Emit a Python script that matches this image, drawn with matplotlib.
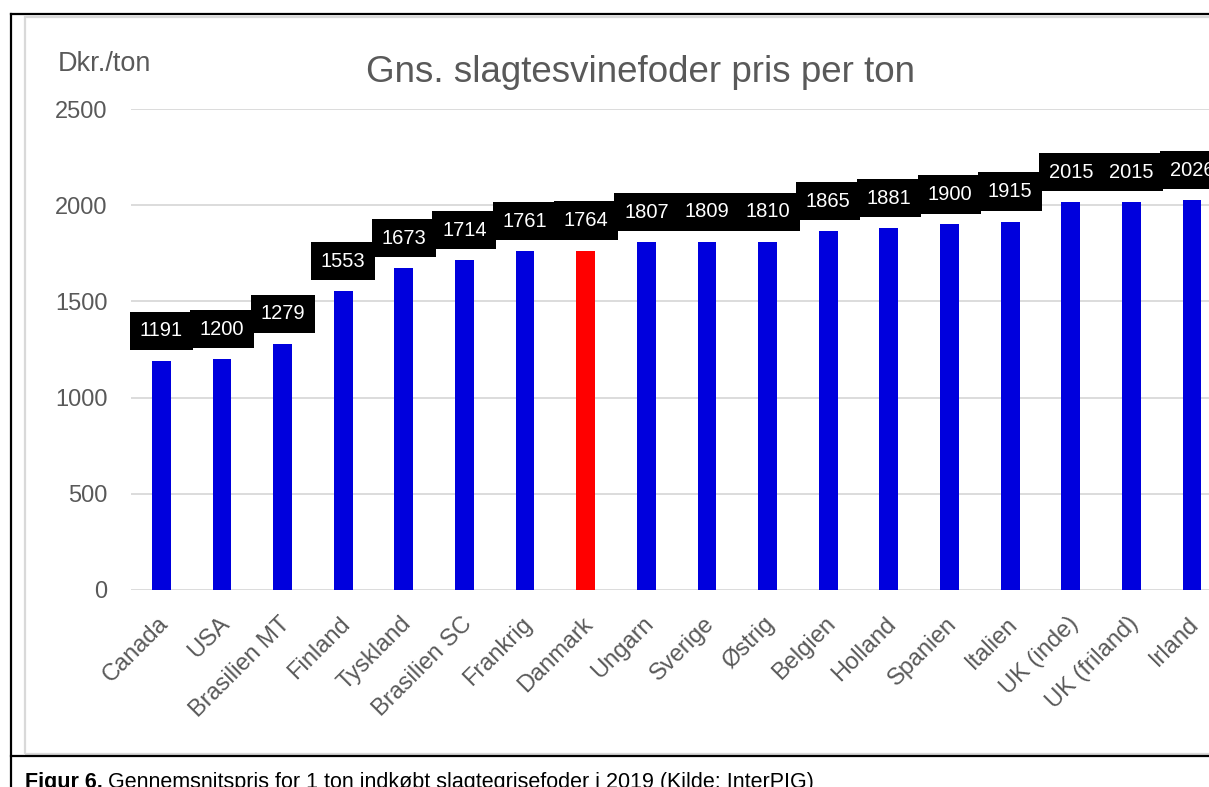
import matplotlib
matplotlib.use('Agg')
import matplotlib.pyplot as plt
from matplotlib.lines import Line2D
from matplotlib.patches import Rectangle
from matplotlib.transforms import ScaledTranslation

plt.rcParams['font.family'] = ['Liberation Sans', 'DejaVu Sans']

# Data
countries = ['Canada', 'USA', 'Brasilien MT', 'Finland', 'Tyskland', 'Brasilien SC',
             'Frankrig', 'Danmark', 'Ungarn', 'Sverige', 'Østrig', 'Belgien', 'Holland',
             'Spanien', 'Italien', 'UK (inde)', 'UK (friland)', 'Irland']
prices = [1191, 1200, 1279, 1553, 1673, 1714, 1761, 1764, 1807, 1809, 1810,
          1865, 1881, 1900, 1915, 2015, 2015, 2026]
highlight = 'Danmark'
y_ticks = [0, 500, 1000, 1500, 2000, 2500]

W, H = 1209, 787
gray = '#595959'
grid_gray = '#d9d9d9'


def fx(px):
    return px / W


def fy(py):
    return 1 - py / H


fig = plt.figure(figsize=(W / 100, H / 100), dpi=100)
fig.patch.set_facecolor('white')

# frames around the chart
fig.add_artist(Rectangle((fx(25), fy(754)), fx(1300) - fx(25), fy(17) - fy(754),
                         transform=fig.transFigure, fill=False, ec=grid_gray, lw=1.6))
fig.add_artist(Line2D([fx(11), fx(11)], [fy(14), 0], transform=fig.transFigure,
                      color='black', lw=1.6))
fig.add_artist(Line2D([fx(11), 1], [fy(14), fy(14)], transform=fig.transFigure,
                      color='black', lw=1.6))
fig.add_artist(Line2D([fx(11), 1], [fy(756), fy(756)], transform=fig.transFigure,
                      color='black', lw=1.6))

ax = fig.add_axes([fx(131), fy(590), 1 - fx(131), fy(109) - fy(590)])
ax.set_facecolor('none')

colors = ['#FF0000' if c == highlight else '#0000DD' for c in countries]
x = list(range(len(countries)))
ax.bar(x, prices, width=0.31, color=colors, zorder=2)

ax.set_xlim(-0.5, 17.28)
ax.set_ylim(0, 2500)
ax.set_yticks(y_ticks)
ax.yaxis.grid(True, color=grid_gray, lw=1.3, zorder=0)
ax.set_axisbelow(True)
for s in ax.spines.values():
    s.set_visible(False)
ax.tick_params(axis='y', length=0, pad=17, labelsize=17, labelcolor=gray)
ax.tick_params(axis='x', length=0, pad=22)
ax.set_xticks(x, countries, rotation=45, ha='right', va='center',
              rotation_mode='anchor', fontsize=17, color=gray)
for lab in ax.get_xticklabels():
    lab.set_transform(lab.get_transform() + ScaledTranslation(0.04, 0, fig.dpi_scale_trans))

# value labels in black boxes
for i, v in enumerate(prices):
    ax.annotate(str(v), xy=(i, v), xytext=(0, 21.6), textcoords='offset points',
                ha='center', va='center', color='white', fontsize=14.5,
                bbox=dict(boxstyle='square,pad=0.48', fc='black', ec='none'),
                annotation_clip=False, zorder=3)

fig.text(fx(640), fy(73), 'Gns. slagtesvinefoder pris per ton', ha='center', va='center',
         fontsize=26.5, color=gray)
fig.text(fx(58), fy(64), 'Dkr./ton', ha='left', va='center', fontsize=19.5, color=gray)

# caption below the frame
cap1 = fig.text(fx(25), fy(772), 'Figur 6.', ha='left', va='top', fontsize=15.5,
                fontweight='bold', color='black')
r = fig.canvas.get_renderer()
bb = cap1.get_window_extent(r)
fig.text((bb.x1 + 5) / W, fy(772), 'Gennemsnitspris for 1 ton indkøbt slagtegrisefoder i 2019 (Kilde: InterPIG)',
         ha='left', va='top', fontsize=15.5, color='black')

fig.savefig('out.png', dpi=100)
